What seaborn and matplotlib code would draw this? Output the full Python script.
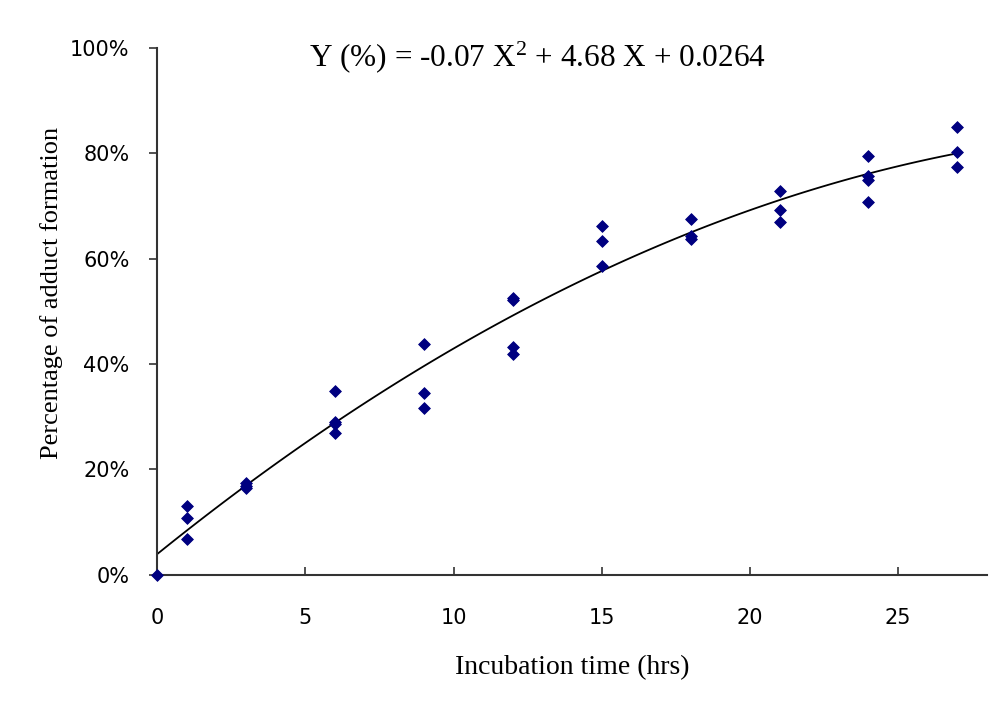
import numpy as np
import pandas as pd
import seaborn as sns
import matplotlib.pyplot as plt
from matplotlib.ticker import PercentFormatter

# incubation time (hrs) and measured adduct formation (%)
hours = [0,
         1, 1, 1,
         3, 3, 3,
         6, 6, 6, 6,
         9, 9, 9,
         12, 12, 12, 12,
         15, 15, 15,
         18, 18, 18,
         21, 21, 21,
         24, 24, 24, 24,
         27, 27, 27]
adduct = [0.0,
          13.0, 10.8, 6.8,
          17.4, 16.9, 16.4,
          34.9, 29.1, 28.6, 26.9,
          43.8, 34.6, 31.6,
          52.6, 52.2, 43.3, 41.9,
          66.1, 63.3, 58.6,
          67.5, 64.3, 63.7,
          72.9, 69.3, 67.0,
          79.5, 75.6, 75.0, 70.7,
          85.0, 80.2, 77.3]

df = pd.DataFrame({"hours": hours, "adduct": adduct})

sns.set_style("white")
plt.rcParams["mathtext.fontset"] = "custom"
plt.rcParams["mathtext.rm"] = "Liberation Serif"
plt.rcParams["mathtext.it"] = "Liberation Serif:italic"

fig = plt.figure(figsize=(10.01, 7.02), dpi=100)
ax = fig.add_axes([0.157, 0.181, 0.829, 0.751])

# quadratic trendline (fit on the data, as the spreadsheet did)
sns.regplot(data=df, x="hours", y="adduct", order=2, ci=None, scatter=False,
            line_kws=dict(color="black", lw=1.3), ax=ax)
sns.scatterplot(data=df, x="hours", y="adduct", marker="D", s=36,
                color="#000080", edgecolor="#000080", linewidth=0.6,
                ax=ax, zorder=5, clip_on=False)

ax.set_xlim(0, 28)
ax.set_ylim(0, 100)
ax.set_xticks([0, 5, 10, 15, 20, 25])
ax.set_yticks([0, 20, 40, 60, 80, 100])
ax.yaxis.set_major_formatter(PercentFormatter(decimals=0))

for side in ["top", "right"]:
    ax.spines[side].set_visible(False)
for side in ["left", "bottom"]:
    ax.spines[side].set_color("#333333")
    ax.spines[side].set_linewidth(1.5)

ax.tick_params(axis="y", direction="out", length=6, width=1.2, color="#333333",
               labelsize=15, pad=14, left=True)
ax.tick_params(axis="x", direction="in", length=6, width=1.2, color="#333333",
               labelsize=15, pad=24, bottom=True)
for lab in ax.get_xticklabels() + ax.get_yticklabels():
    lab.set_family("DejaVu Sans")
    lab.set_color("black")

ax.set_xlabel("Incubation time (hrs)", family="Liberation Serif", fontsize=20,
              labelpad=19, color="black")
ax.set_ylabel("Percentage of adduct formation", family="Liberation Serif",
              fontsize=19, color="black")
ax.yaxis.set_label_coords(-0.114, 0.535)

ax.text(0.458, 0.982, r"Y (%) = -0.07 X$^{2}$ + 4.68 X + 0.0264",
        transform=ax.transAxes, ha="center", va="center",
        family="Liberation Serif", fontsize=22.5, color="black")

fig.savefig("out.png", dpi=100, facecolor="white")
